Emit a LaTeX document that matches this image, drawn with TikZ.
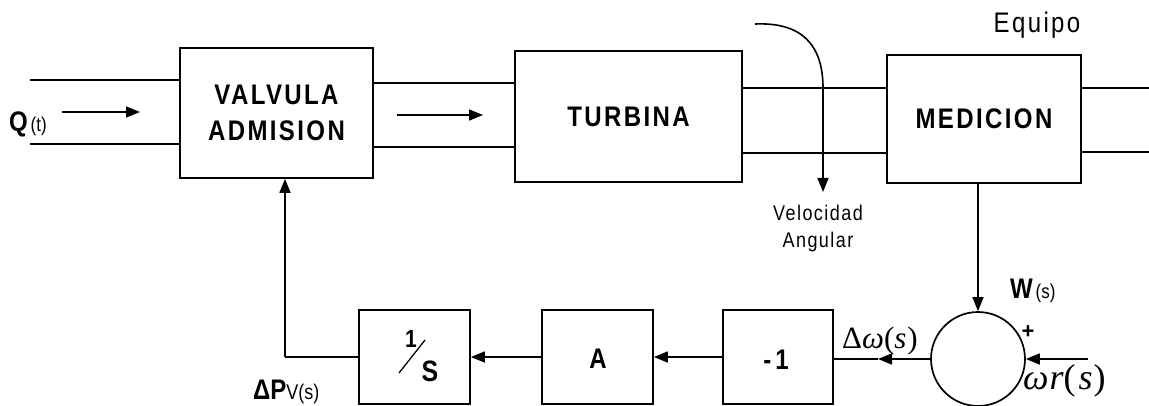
\documentclass[tikz,border=0pt]{standalone}
\usepackage{fontspec}
\usepackage{graphicx}
\setmainfont{Liberation Sans}
\newfontfamily\spc[LetterSpace=10]{Liberation Sans}
\newfontfamily\spcs[LetterSpace=8]{Liberation Sans}
\newfontfamily\tms{Liberation Serif}
\newcommand{\tall}[1]{\scalebox{1}[1.18]{#1}}
\usetikzlibrary{arrows.meta}
\tikzset{
  blk/.style={draw, line width=1.7pt, inner sep=0pt, fill=none},
  bigtxt/.style={font=\spc\bfseries\fontsize{24}{34}\selectfont, align=center},
  arr/.style={line width=1.6pt, -{Triangle[length=14pt,width=11pt]}},
  ln/.style={line width=1.6pt},
  sumnode/.style={draw, circle, line width=1.7pt, minimum size=94pt, inner sep=0pt}
}
\begin{document}
\begin{tikzpicture}[x=1pt,y=-1pt]
\fill[white] (0,0) rectangle (1149,406);
\useasboundingbox (0,0) rectangle (1149,406);

% top blocks
\node[blk, bigtxt, minimum width=193pt, minimum height=130pt] (valv) at (276.5,113) {\tall{VALVULA}\\[2pt]\tall{ADMISION}};
\node[blk, bigtxt, minimum width=227pt, minimum height=131pt] (turb) at (628.5,116.5) {\tall{TURBINA}};
\node[blk, bigtxt, minimum width=194pt, minimum height=128pt] (med) at (984,119) {\tall{MEDICION}};
\node[font=\spc\fontsize{24}{26}\selectfont] (equ) at (1037,25) {\tall{Equipo}};

% pipes
\coordinate (pl1) at (30,80);
\coordinate (pl2) at (30,144);
\coordinate (pr1) at (1149,88);
\coordinate (pr2) at (1149,152);
\draw[ln] (pl1) -- (pl1 -| valv.west);
\draw[ln] (pl2) -- (pl2 -| valv.west);
\draw[ln] (valv.east |- 0,83) -- (turb.west |- 0,83);
\draw[ln] (valv.east |- 0,147) -- (turb.west |- 0,147);
\draw[ln] (turb.east |- 0,88) -- (med.west |- 0,88);
\draw[ln] (turb.east |- 0,153) -- (med.west |- 0,153);
\draw[ln] (med.east |- pr1) -- (pr1);
\draw[ln] (med.east |- pr2) -- (pr2);

% flow arrows
\node[anchor=west, inner sep=0pt] (q) at (9,124) {\tall{\bfseries\fontsize{24}{26}\selectfont Q\fontsize{17}{18}\mdseries\selectfont\,(t)}};
\coordinate (qa1) at (62,112);
\coordinate (qa2) at (140,112);
\draw[arr] (qa1) -- (qa2);
\coordinate (fa1) at (397,115);
\coordinate (fa2) at (483,115);
\draw[arr] (fa1) -- (fa2);

% velocidad angular
\coordinate (vs) at (755,24);
\coordinate (ve) at (823,192);
\draw[arr] (vs) .. controls (802,22) and (823,45) .. (823,88) -- (ve);
\node[font=\spcs\fontsize{18}{27}\selectfont, align=center] (vel) at (818,229) {\tall{Velocidad}\\\tall{Angular}};

% bottom row
\node[sumnode] (sum) at (978,359) {};
\node[blk, minimum width=110pt, minimum height=94pt] (neg) at (778,357) {};
\node[font=\bfseries\fontsize{24}{24}\selectfont] (negt) at (776,360) {\tall{-\,1}};
\node[blk, minimum width=111pt, minimum height=94pt] (amp) at (597.5,357) {};
\node[font=\bfseries\fontsize{24}{24}\selectfont] (ampt) at (598,359) {\tall{A}};
\node[blk, minimum width=111pt, minimum height=94pt] (inte) at (414.5,357) {};
\node[font=\bfseries\fontsize{21}{21}\selectfont] (one) at (411,339) {\tall{1}};
\node[font=\bfseries\fontsize{25}{25}\selectfont] (ess) at (430,371) {\tall{S}};
\coordinate (sl1) at (399,373);
\coordinate (sl2) at (425,340);
\draw[line width=1.3pt] (sl1) -- (sl2);

% connections
\draw[arr] (med.south -| sum.north) -- (sum.north);
\coordinate (wrs) at (1088,359);
\draw[arr] (wrs) -- (sum.east);
\coordinate (dwtip) at (878,359);
\draw[arr] (sum.west) -- (dwtip);
\draw[ln] (dwtip) -- (neg.east |- dwtip);
\draw[arr] (neg.west) -- (amp.east);
\draw[arr] (amp.west) -- (inte.east);
\coordinate (fb) at (285,357);
\draw[ln] (inte.west) -- (fb);
\draw[arr] (fb) -- (fb |- valv.south);

% labels
\node[anchor=west, inner sep=0pt] (wl) at (1010,291) {\tall{\bfseries\fontsize{24}{26}\selectfont W\fontsize{17}{18}\mdseries\selectfont\,(s)}};
\node[font=\bfseries\fontsize{22}{22}\selectfont] (plus) at (1028,332) {+};
\node[anchor=west, inner sep=0pt] (wr) at (1023,381) {\tms\fontsize{36}{38}\selectfont\itshape ω\kern1pt r\upshape(\kern3pt\itshape s\kern1pt\upshape)};
\node[anchor=west, inner sep=0pt] (dw) at (842,341) {\tms\fontsize{31}{33}\selectfont Δ\itshape ω\upshape(\itshape s\kern1pt\upshape)};
\node[anchor=west, inner sep=0pt] (dp) at (253,392) {\tall{\bfseries\fontsize{24}{26}\selectfont ΔP\fontsize{18}{20}\mdseries\selectfont V(s)}};
\end{tikzpicture}
\end{document}
